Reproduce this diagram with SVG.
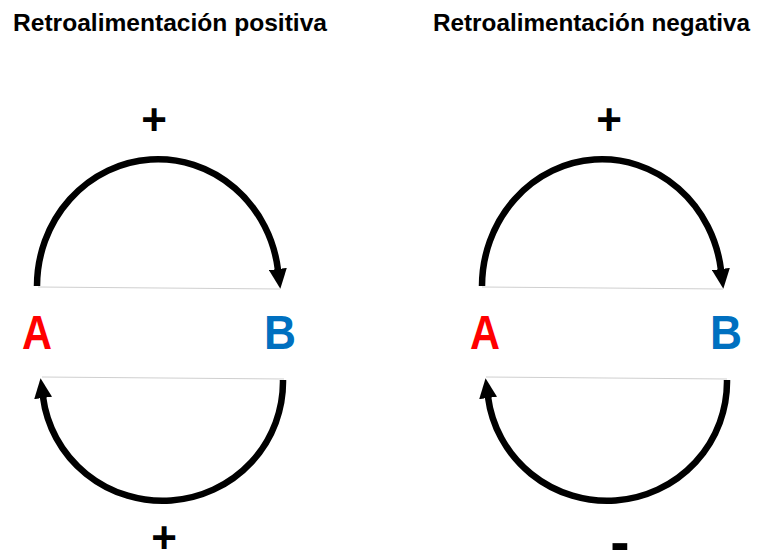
<svg xmlns="http://www.w3.org/2000/svg" width="758" height="554" viewBox="0 0 758 554">
<defs>
<style>
.title{font-family:"Liberation Sans",Arial,sans-serif;font-weight:bold;font-size:24.5px;fill:#000}
.node{font-family:"Liberation Sans",Arial,sans-serif;font-weight:bold;font-size:48px}
.a{fill:#ff0000}
.b{fill:#0070c0}
.sign{font-family:"Liberation Sans",Arial,sans-serif;font-weight:bold;font-size:44px;fill:#000;text-anchor:middle}
.arc{fill:none;stroke:#000;stroke-width:6.5;marker-end:url(#head)}
.faint{stroke:#cfcfcf;stroke-width:1;fill:none}
</style>
<marker id="head" markerUnits="userSpaceOnUse" viewBox="0 0 20 18" markerWidth="20" markerHeight="18" refX="1" refY="9" orient="auto">
<path d="M0,0 L20,9 L0,18 z" fill="#000"/>
</marker>
</defs>
<rect width="758" height="554" fill="#fff"/>
<g id="titles">
<text class="title" x="13" y="31" textLength="314" lengthAdjust="spacingAndGlyphs">Retroalimentación positiva</text>
<text class="title" x="433" y="31" textLength="317" lengthAdjust="spacingAndGlyphs">Retroalimentación negativa</text>
</g>
<g id="connectors">
<line class="faint" x1="38" y1="287" x2="280" y2="289"/>
<line class="faint" x1="42" y1="377" x2="284" y2="379"/>
<line class="faint" x1="482" y1="287" x2="723" y2="289"/>
<line class="faint" x1="486" y1="377" x2="727" y2="379"/>
<path class="arc" d="M37,286 A121,127 0 0 1 278,270"/>
<path class="arc" d="M283,380 A120.5,119 0 0 1 43,397"/>
<path class="arc" d="M482,286 A120,127 0 0 1 721,270"/>
<path class="arc" d="M727,380 A120,119 0 0 1 488,397"/>
</g>
<g id="signs">
<text class="sign" x="154" y="135">+</text>
<text class="sign" x="164" y="553">+</text>
<text class="sign" x="609" y="135">+</text>
<text class="sign" x="620" y="562" style="font-size:58px">-</text>
</g>
<g id="node-A-left"><text class="node a" x="22" y="349" textLength="30" lengthAdjust="spacingAndGlyphs">A</text></g>
<g id="node-B-left"><text class="node b" x="264" y="349" textLength="32" lengthAdjust="spacingAndGlyphs">B</text></g>
<g id="node-A-right"><text class="node a" x="470" y="349" textLength="30" lengthAdjust="spacingAndGlyphs">A</text></g>
<g id="node-B-right"><text class="node b" x="710" y="349" textLength="32" lengthAdjust="spacingAndGlyphs">B</text></g>
</svg>
